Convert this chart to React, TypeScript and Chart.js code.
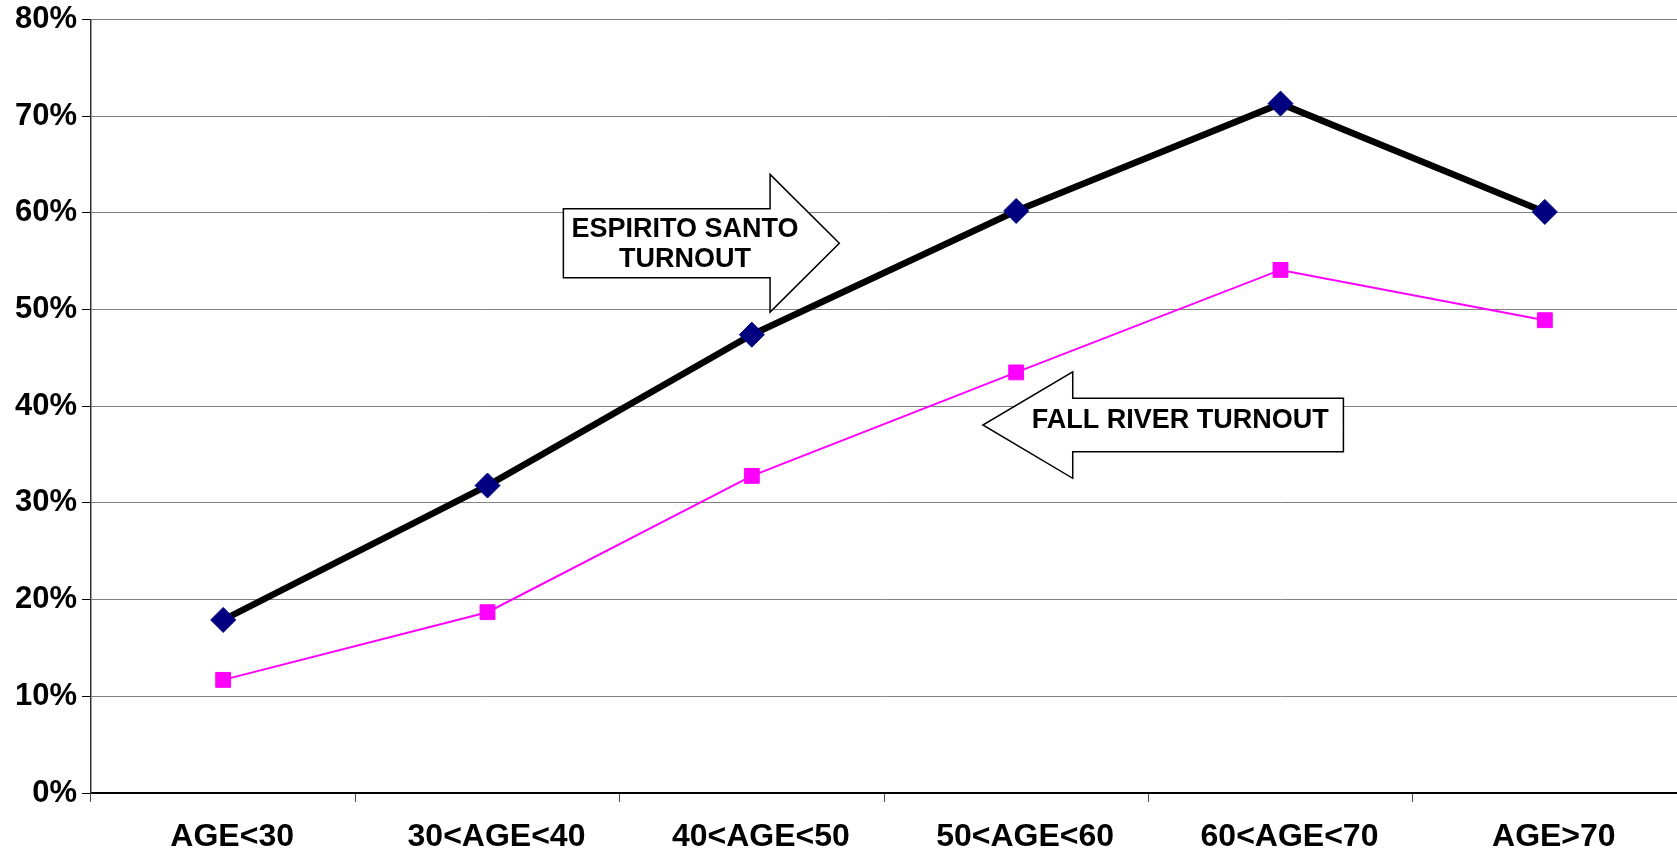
import React, { useEffect, useRef } from "react";
import { Chart, registerables } from "chart.js";

Chart.register(...registerables);

const categories = ["AGE<30", "30<AGE<40", "40<AGE<50", "50<AGE<60", "60<AGE<70", "AGE>70"];
const espiritoSanto = [17.9, 31.8, 47.4, 60.2, 71.3, 60.1];
const fallRiver = [11.7, 18.7, 32.8, 43.5, 54.1, 48.9];
const yTicks = [0, 10, 20, 30, 40, 50, 60, 70, 80];

// Block-arrow callouts, in data units (x: category index, y: percent)
const arrowES = { tailX: 1.287, headX: 2.069, tipX: 2.331, y: 56.86, bodyHalf: 3.57, headHalf: 7.12 };
const arrowESText = ["ESPIRITO SANTO", "TURNOUT"];
const arrowESTextPos = { x: 1.747, y: [58.24, 55.14] };
const arrowFR = { tailX: 4.238, headX: 3.214, tipX: 2.874, y: 38.06, bodyHalf: 2.76, headHalf: 5.51 };
const arrowFRText = ["FALL RIVER TURNOUT"];
const arrowFRTextPos = { x: 3.621, y: [38.55] };

const FONT = "'Liberation Sans', Arial, sans-serif";

const arrowPlugin = {
  id: "blockArrows",
  afterDatasetsDraw(chart: any) {
    const ctx = chart.ctx;
    const xs = chart.scales.x;
    const ys = chart.scales.y;
    const drawArrow = (a: any, lines: string[], tp: any) => {
      const tail = xs.getPixelForValue(a.tailX);
      const head = xs.getPixelForValue(a.headX);
      const tip = xs.getPixelForValue(a.tipX);
      const cy = ys.getPixelForValue(a.y);
      const bTop = ys.getPixelForValue(a.y + a.bodyHalf);
      const bBot = ys.getPixelForValue(a.y - a.bodyHalf);
      const hTop = ys.getPixelForValue(a.y + a.headHalf);
      const hBot = ys.getPixelForValue(a.y - a.headHalf);
      ctx.save();
      ctx.beginPath();
      ctx.moveTo(tail, bTop);
      ctx.lineTo(head, bTop);
      ctx.lineTo(head, hTop);
      ctx.lineTo(tip, cy);
      ctx.lineTo(head, hBot);
      ctx.lineTo(head, bBot);
      ctx.lineTo(tail, bBot);
      ctx.closePath();
      ctx.fillStyle = "#ffffff";
      ctx.fill();
      ctx.lineWidth = 1.5;
      ctx.strokeStyle = "#000000";
      ctx.lineJoin = "miter";
      ctx.stroke();
      ctx.fillStyle = "#000000";
      ctx.font = `bold 27px ${FONT}`;
      ctx.textAlign = "center";
      ctx.textBaseline = "middle";
      const tx = xs.getPixelForValue(tp.x);
      lines.forEach((l, i) => {
        ctx.fillText(l, tx, ys.getPixelForValue(tp.y[i]));
      });
      ctx.restore();
    };
    drawArrow(arrowES, arrowESText, arrowESTextPos);
    drawArrow(arrowFR, arrowFRText, arrowFRTextPos);
  },
};

export default function App() {
  const ref = useRef<HTMLCanvasElement | null>(null);
  useEffect(() => {
    if (!ref.current) return;
    const chart = new Chart(ref.current, {
      type: "line",
      data: {
        labels: categories,
        datasets: [
          {
            label: "ESPIRITO SANTO TURNOUT",
            data: espiritoSanto,
            borderColor: "#000000",
            borderWidth: 6.5,
            pointStyle: "rectRot",
            pointRadius: 12.5,
            pointHoverRadius: 12.5,
            pointBackgroundColor: "#000080",
            pointBorderColor: "#000080",
            pointBorderWidth: 1,
            tension: 0,
          },
          {
            label: "FALL RIVER TURNOUT",
            data: fallRiver,
            borderColor: "#FF00FF",
            borderWidth: 2,
            pointStyle: "rect",
            pointRadius: 10.5,
            pointHoverRadius: 10.5,
            pointBackgroundColor: "#FF00FF",
            pointBorderColor: "#FF00FF",
            pointBorderWidth: 1,
            tension: 0,
          },
        ],
      },
      options: {
        animation: false,
        responsive: true,
        maintainAspectRatio: false,
        events: [],
        layout: { autoPadding: false, padding: { top: 19.5, right: 0, left: 0, bottom: 0 } },
        plugins: { legend: { display: false }, tooltip: { enabled: false }, title: { display: false } },
        scales: {
          x: {
            type: "category",
            offset: true,
            grid: {
              display: true,
              drawOnChartArea: false,
              drawTicks: true,
              tickLength: 9,
              offset: true,
              color: "#444444",
              lineWidth: 1,
            },
            border: { display: true, color: "#000000", width: 2 },
            ticks: {
              color: "#000000",
              font: { family: FONT, size: 32, weight: "bold" },
              padding: 16,
              labelOffset: 9,
              maxRotation: 0,
              autoSkip: false,
            },
            afterFit: (s: any) => {
              s.height = 63;
              s.paddingLeft = 0;
              s.paddingRight = 0;
            },
          },
          y: {
            min: 0,
            max: 80,
            afterBuildTicks: (s: any) => {
              s.ticks = yTicks.map((v) => ({ value: v }));
            },
            grid: {
              color: "#808080",
              lineWidth: 1,
              drawTicks: true,
              tickLength: 9,
              tickColor: "#000000",
            },
            border: { display: true, color: "#333333", width: 1.5 },
            ticks: {
              color: "#000000",
              font: { family: FONT, size: 31, weight: "bold" },
              padding: 5,
              callback: (v: any) => `${v}%`,
            },
            afterFit: (s: any) => {
              s.width = 91;
              s.paddingTop = 0;
              s.paddingBottom = 0;
            },
          },
        },
      },
      plugins: [arrowPlugin],
    } as any);
    return () => chart.destroy();
  }, []);
  return (
    <div style={{ position: "absolute", left: 0, top: 0, width: 1677, height: 856, background: "#fff" }}>
      <canvas ref={ref} />
    </div>
  );
}
